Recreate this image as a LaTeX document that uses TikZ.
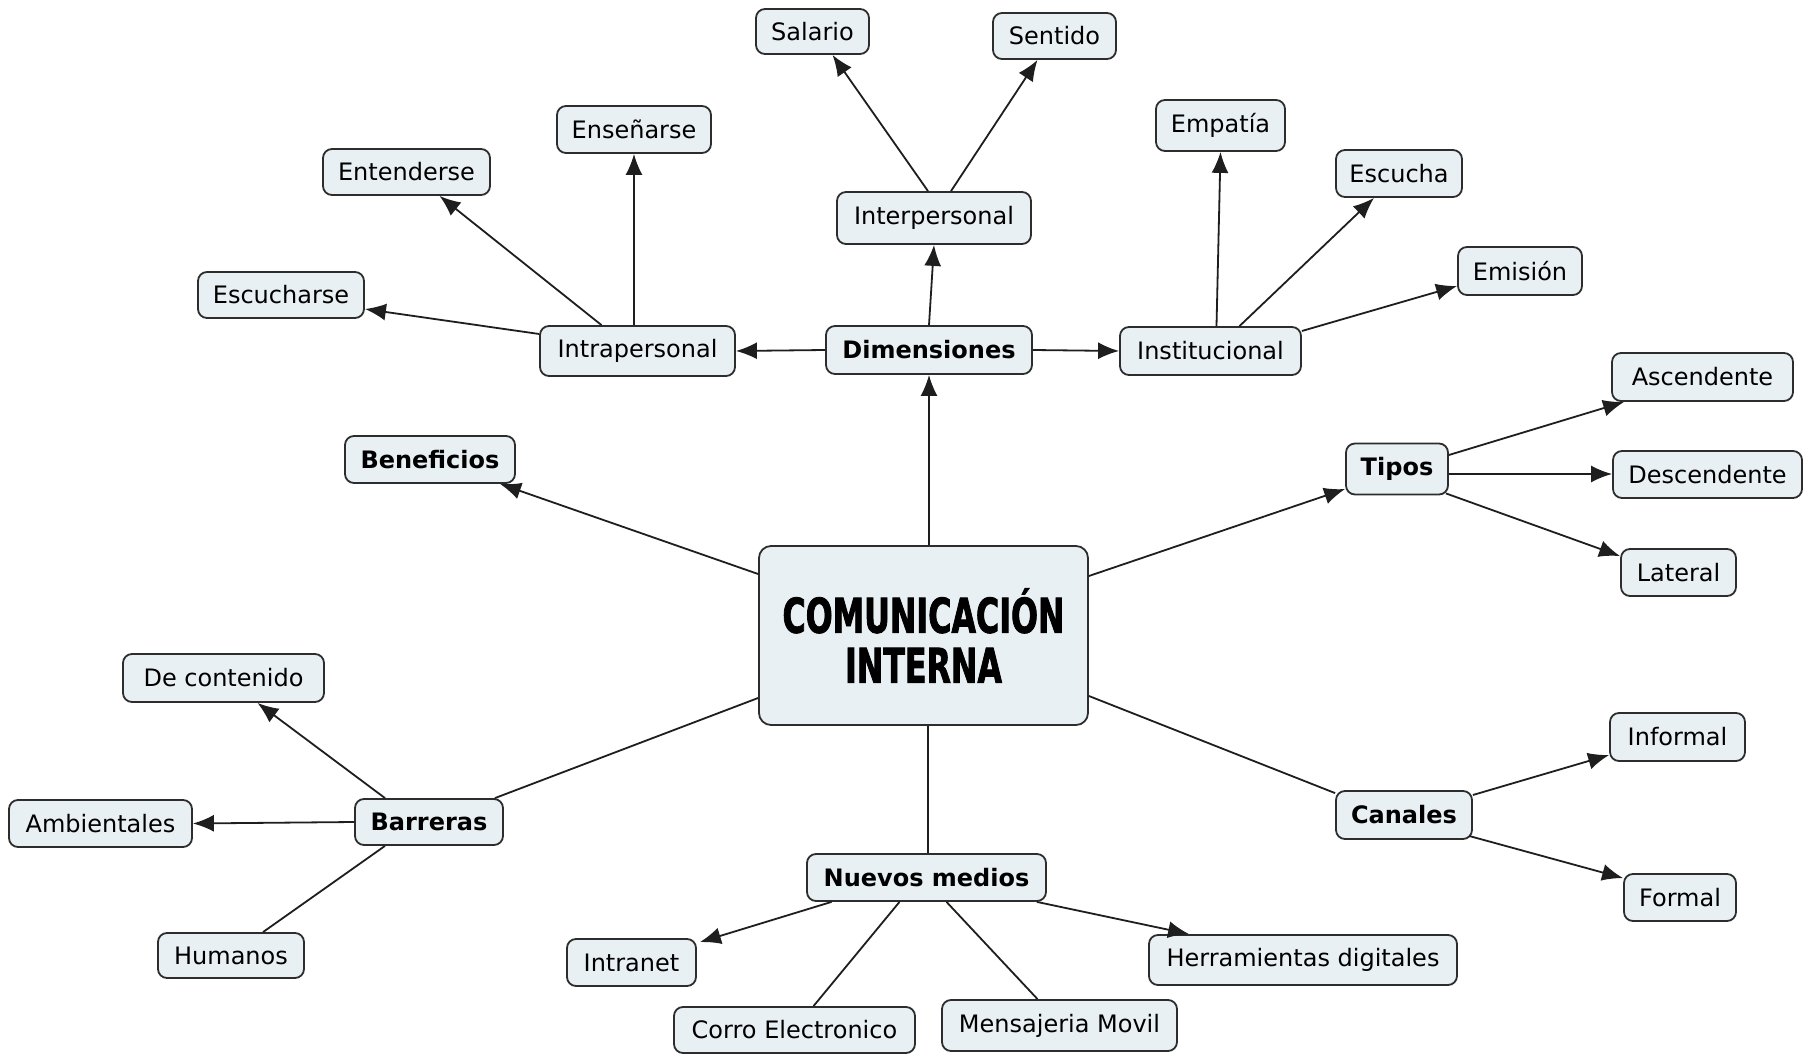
\documentclass[tikz,border=0pt]{standalone}
\usepackage{fontspec}
\setmainfont{DejaVu Sans}
\newfontfamily\titlefont[FakeStretch=0.66,FakeBold=1.6]{DejaVu Sans}
\usetikzlibrary{arrows.meta}
\definecolor{boxfill}{RGB}{233,240,243}
\definecolor{boxline}{RGB}{45,45,45}
\definecolor{linkcol}{RGB}{30,30,30}
\tikzset{
  cbox/.style={draw=boxline, fill=boxfill, rounded corners=9pt, line width=1.8pt,
    inner sep=0pt, font=\fontsize{24}{28}\selectfont, align=center},
  bbox/.style={cbox, font=\fontsize{24}{28}\selectfont\bfseries},
  link/.style={draw=linkcol, line width=1.8pt},
  arr/.style={link, -{Latex[length=21pt,width=17pt]}},
}
\begin{document}
\begin{tikzpicture}[x=1pt,y=-1pt]
\useasboundingbox (0,0) rectangle (1807,1056);
\fill[white] (0,0) rectangle (1807,1056);

% central node
\node[cbox, rounded corners=12pt, minimum width=329pt, minimum height=179pt,
  font=\titlefont\bfseries\fontsize{48}{50}\selectfont] (center) at (923.5,635.5) {COMUNICACIÓN\\INTERNA};

% first level
\node[bbox, minimum width=206pt, minimum height=48pt] (dim) at (929,350) {Dimensiones};
\node[bbox, minimum width=170pt, minimum height=47pt] (ben) at (430,459.5) {Beneficios};
\node[bbox, minimum width=102pt, minimum height=51pt] (tipos) at (1397,469) {Tipos};
\node[bbox, minimum width=136pt, minimum height=48pt] (can) at (1404,815) {Canales};
\node[bbox, minimum width=148pt, minimum height=46pt] (bar) at (429,822) {Barreras};
\node[bbox, minimum width=239pt, minimum height=47pt] (nm) at (926.5,877.5) {Nuevos medios};

% dimensiones
\node[cbox, minimum width=195pt, minimum height=50pt] (intra) at (637.5,351) {Intrapersonal};
\node[cbox, minimum width=181pt, minimum height=48pt] (inst) at (1210.5,351) {Institucional};
\node[cbox, minimum width=194pt, minimum height=52pt] (inter) at (934,218) {Interpersonal};
\node[cbox, minimum width=113pt, minimum height=45pt] (sal) at (812.5,31.5) {Salario};
\node[cbox, minimum width=123pt, minimum height=46pt] (sen) at (1054.5,36) {Sentido};
\node[cbox, minimum width=129pt, minimum height=51pt] (emp) at (1220.5,125.5) {Empatía};
\node[cbox, minimum width=126pt, minimum height=47pt] (esc) at (1399,173.5) {Escucha};
\node[cbox, minimum width=124pt, minimum height=48pt] (emi) at (1520,271) {Emisión};
\node[cbox, minimum width=154pt, minimum height=47pt] (ens) at (634,129.5) {Enseñarse};
\node[cbox, minimum width=167pt, minimum height=46pt] (ent) at (406.5,172) {Entenderse};
\node[cbox, minimum width=166pt, minimum height=46pt] (escs) at (281,295) {Escucharse};

% tipos
\node[cbox, minimum width=181pt, minimum height=48pt] (asc) at (1702.5,377) {Ascendente};
\node[cbox, minimum width=189pt, minimum height=47pt] (desc) at (1707.5,474.5) {Descendente};
\node[cbox, minimum width=115pt, minimum height=47pt] (lat) at (1678.5,572.5) {Lateral};

% canales
\node[cbox, minimum width=135pt, minimum height=48pt] (inf) at (1677.5,737) {Informal};
\node[cbox, minimum width=112pt, minimum height=47pt] (form) at (1680,897.5) {Formal};

% barreras
\node[cbox, minimum width=183pt, minimum height=47pt] (amb) at (100.5,823.5) {Ambientales};
\node[cbox, minimum width=201pt, minimum height=48pt] (dc) at (223.5,678) {De contenido};
\node[cbox, minimum width=146pt, minimum height=45pt] (hum) at (231,955.5) {Humanos};

% nuevos medios
\node[cbox, minimum width=129pt, minimum height=47pt] (intr) at (631.5,962.5) {Intranet};
\node[cbox, minimum width=241pt, minimum height=46pt] (corro) at (794.5,1030) {Corro Electronico};
\node[cbox, minimum width=235pt, minimum height=51pt] (mens) at (1059.5,1025.5) {Mensajeria Movil};
\node[cbox, minimum width=308pt, minimum height=50pt] (herr) at (1303,960) {Herramientas digitales};

% connectors from center
\draw[arr] ([xshift=5.5pt]center.north) -- (dim.south);
\draw[arr] ([yshift=61.5pt]center.west) -- ([xshift=70pt]ben.south);
\draw[arr] ([yshift=59.5pt]center.east) -- ([yshift=-20pt]tipos.west);
\draw[link] ([yshift=-60.5pt]center.east) -- ([yshift=-3pt]can.north west);
\draw[link] ([yshift=-62.5pt]center.west) -- ([xshift=-9pt]bar.north east);
\draw[link] ([xshift=4.5pt]center.south) -- ([xshift=1.5pt]nm.north);

% dimensiones
\draw[arr] (dim.west) -- (intra.east);
\draw[arr] (dim.east) -- (inst.west);
\draw[arr] (dim.north) -- (inter.south);
\draw[arr] ([xshift=-6pt]inter.north) -- ([xshift=20pt]sal.south);
\draw[arr] ([xshift=17pt]inter.north) -- ([xshift=-17pt]sen.south);
\draw[arr] ([yshift=17pt]intra.west) -- ([yshift=-14pt]escs.east);
\draw[arr] ([xshift=-36pt]intra.north) -- ([xshift=33pt]ent.south);
\draw[arr] (ens.south |- intra.north) -- (ens.south);
\draw[arr] ([xshift=6pt]inst.north) -- (emp.south);
\draw[arr] ([xshift=29pt]inst.north) -- ([xshift=-25pt]esc.south);
\draw[arr] ([yshift=20pt]inst.east) -- ([yshift=-15pt]emi.west);

% tipos
\draw[arr] ([yshift=14pt]tipos.east) -- ([xshift=13pt]asc.south west);
\draw[arr] ([yshift=0.5pt]tipos.east |- desc.west) -- ([yshift=0.5pt]desc.west);
\draw[arr] ([xshift=-3pt,yshift=2pt]tipos.south east) -- ([yshift=-8pt]lat.north west);

% canales
\draw[arr] ([yshift=20pt]can.east) -- ([yshift=-18pt]inf.west);
\draw[arr] ([xshift=-4pt,yshift=4pt]can.south east) -- ([yshift=-5pt]form.north west);

% barreras
\draw[arr] ([xshift=-44pt]bar.north) -- ([xshift=34pt]dc.south);
\draw[arr] (bar.west) -- (amb.east);
\draw[link] ([xshift=-44pt]bar.south) -- ([xshift=32pt]hum.north);

% nuevos medios
\draw[arr] ([xshift=-95pt]nm.south) -- ([xshift=3pt,yshift=-4pt]intr.north east);
\draw[link] ([xshift=-27pt]nm.south) -- ([xshift=19pt]corro.north);
\draw[link] ([xshift=20pt]nm.south) -- ([xshift=-22pt]mens.north);
\draw[arr] ([xshift=-10pt]nm.south east) -- ([xshift=41pt]herr.north west);
\end{tikzpicture}
\end{document}
